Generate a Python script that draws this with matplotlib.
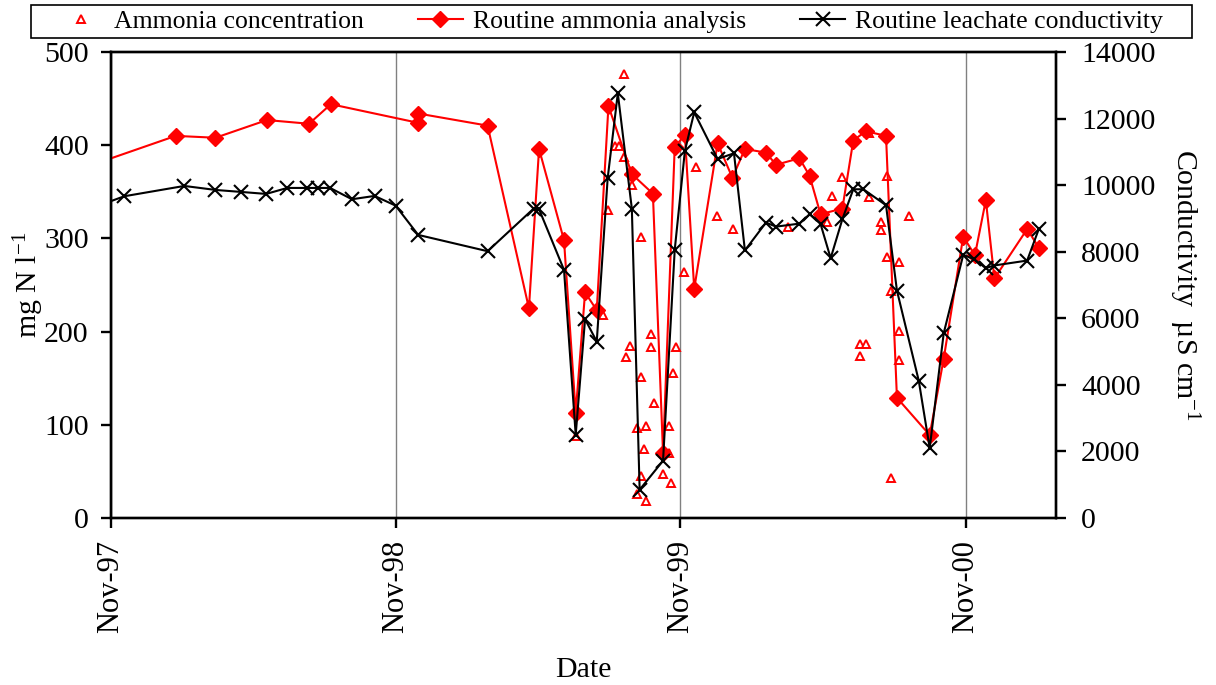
import matplotlib
matplotlib.use("Agg")
import matplotlib.pyplot as plt
import matplotlib.dates as mdates
from matplotlib.patches import Rectangle
import numpy as np
import pandas as pd

plt.rcParams['font.family'] = ['Liberation Serif', 'DejaVu Serif']
plt.rcParams['mathtext.fontset'] = 'custom'
plt.rcParams['mathtext.rm'] = 'Liberation Serif'
plt.rcParams['mathtext.it'] = 'Liberation Serif:italic'

# ---- Routine ammonia analysis (mg N l-1) ----
routine_nh3_dates = [
    "1997-10-22", "1998-01-23", "1998-03-15", "1998-05-20", "1998-07-13", "1998-08-10",
    "1998-11-30", "1998-11-30", "1999-02-27", "1999-04-21", "1999-05-04", "1999-06-05",
    "1999-06-20", "1999-07-02", "1999-07-17", "1999-08-01", "1999-08-31", "1999-09-27",
    "1999-10-10", "1999-10-25", "1999-11-07", "1999-11-19", "1999-12-19", "2000-01-07",
    "2000-01-23", "2000-02-19", "2000-03-03", "2000-04-02", "2000-04-15", "2000-04-29",
    "2000-05-27", "2000-06-10", "2000-06-26", "2000-07-22", "2000-08-05", "2000-09-16",
    "2000-10-04", "2000-10-29", "2000-11-13", "2000-11-27", "2000-12-08", "2001-01-19",
    "2001-02-03",
]
routine_nh3_values = [
    383, 410, 408, 427, 423, 444,
    424, 434, 421, 225, 396, 298,
    113, 242, 223, 442, 369, 348,
    70, 398, 411, 246, 402, 365,
    396, 392, 379, 386, 367, 326,
    332, 405, 415, 410, 129, 89,
    171, 302, 282, 341, 257, 310,
    290,
]

# ---- Routine leachate conductivity (uS cm-1) ----
cond_dates = [
    "1997-10-22", "1997-11-18", "1998-02-03", "1998-03-15", "1998-04-17", "1998-05-19",
    "1998-06-15", "1998-07-11", "1998-07-25", "1998-08-09", "1998-09-06", "1998-10-05",
    "1998-11-01", "1998-11-30", "1999-02-27", "1999-04-27", "1999-05-04", "1999-06-05",
    "1999-06-20", "1999-07-02", "1999-07-17", "1999-07-31", "1999-08-13", "1999-08-31",
    "1999-09-10", "1999-10-10", "1999-10-25", "1999-11-07", "1999-11-19", "1999-12-19",
    "2000-01-09", "2000-01-23", "2000-02-19", "2000-03-03", "2000-04-02", "2000-04-15",
    "2000-04-29", "2000-05-12", "2000-05-27", "2000-06-10", "2000-06-23", "2000-07-22",
    "2000-08-05", "2000-09-02", "2000-09-16", "2000-10-04", "2000-10-29", "2000-11-12",
    "2000-11-27", "2000-12-07", "2001-01-19", "2001-02-03",
]
cond_values = [
    9435, 9666, 9976, 9856, 9796, 9736,
    9916, 9916, 9916, 9916, 9576, 9676,
    9385, 8505, 8015, 9295, 9276, 7454,
    2501, 5974, 5301, 10207, 12759, 9295,
    850, 1720, 8054, 11026, 12188, 10786,
    10957, 8040, 8874, 8754, 8844, 9126,
    8835, 7805, 8976, 9876, 9876, 9396,
    6833, 4122, 2101, 5554, 7904, 7775,
    7505, 7584, 7734, 8685,
]

# ---- Ammonia concentration (mg N l-1) ----
conc_dates = [
    "1999-06-20", "1999-07-25", "1999-08-01", "1999-08-09", "1999-08-15", "1999-08-21",
    "1999-08-21", "1999-08-23", "1999-08-28", "1999-08-29", "1999-08-31", "1999-09-06",
    "1999-09-07", "1999-09-12", "1999-09-12", "1999-09-12", "1999-09-15", "1999-09-18",
    "1999-09-18", "1999-09-25", "1999-09-25", "1999-09-28", "1999-10-10", "1999-10-18",
    "1999-10-18", "1999-10-20", "1999-10-23", "1999-10-27", "1999-11-06", "1999-11-21",
    "1999-12-18", "2000-01-08", "2000-03-18", "2000-05-07", "2000-05-14", "2000-05-27",
    "2000-06-18", "2000-06-19", "2000-06-26", "2000-06-30", "2000-06-30", "2000-07-16",
    "2000-07-16", "2000-07-23", "2000-07-23", "2000-07-28", "2000-07-28", "2000-08-07",
    "2000-08-07", "2000-08-07", "2000-08-20",
]
conc_values = [
    87.5, 218, 331, 399.5, 399.5, 476,
    387, 173, 185, 372, 357, 26,
    96.5, 301, 151, 45, 74, 99,
    18, 197, 183, 123, 47.5, 99,
    70, 37.5, 156, 183, 264, 377,
    324.5, 310, 312, 318, 346, 366,
    174, 187, 187, 413, 344, 318,
    309, 367, 280.5, 244, 43, 274.5,
    201, 170, 324.5,
]

x_start = "1997-11-01"
x_end = "2001-02-25"

rd = pd.to_datetime(routine_nh3_dates)
cd = pd.to_datetime(cond_dates)
ad = pd.to_datetime(conc_dates)

W, H = 1216, 685
fig = plt.figure(figsize=(W / 100, H / 100), dpi=100)
ax = fig.add_axes([111 / W, 1 - 518 / H, (1056 - 111) / W, (518 - 52) / H])
ax2 = ax.twinx()

l1, = ax.plot(ad, conc_values, linestyle='none', marker='^', markersize=5.5,
              markerfacecolor='white', markeredgecolor='#FF0000', markeredgewidth=1.4,
              label='Ammonia concentration', zorder=3)
l2, = ax.plot(rd, routine_nh3_values, color='#FF0000', lw=1.5, marker='D', markersize=8,
              markerfacecolor='#FF0000', markeredgecolor='#FF0000',
              label='Routine ammonia analysis', zorder=4)
l3, = ax2.plot(cd, cond_values, color='black', lw=1.5, marker='x', markersize=10,
               markeredgewidth=1.5, label='Routine leachate conductivity', zorder=4)

ax.set_xlim(pd.Timestamp(x_start), pd.Timestamp(x_end))
ax.set_ylim(0, 500)
ax2.set_ylim(0, 14000)
ax.set_yticks(np.arange(0, 501, 100))
ax2.set_yticks(np.arange(0, 14001, 2000))

ax.xaxis.set_major_locator(mdates.MonthLocator(bymonth=11, bymonthday=1))
ax.xaxis.set_major_formatter(mdates.DateFormatter('%b-%y'))
ax.grid(axis='x', color='#808080', lw=1.0)
ax.set_axisbelow(True)

for a in (ax, ax2):
    for s in a.spines.values():
        s.set_linewidth(1.7)
        s.set_color('black')

ax.tick_params(axis='x', direction='out', length=7, width=1.7, labelsize=22,
               labelrotation=90, pad=9)
ax.tick_params(axis='y', direction='out', length=7, width=1.7, labelsize=21.5, pad=9)
ax2.tick_params(axis='y', direction='out', length=7, width=1.7, labelsize=21.5, pad=11)

ax.set_xlabel('Date', fontsize=21.5)
ax.xaxis.set_label_coords(0.5, -0.298)
ax.set_ylabel(r'mg N l$^{-1}$', fontsize=21.5)
ax.yaxis.set_label_coords(-0.069, 0.5)
ax2.set_ylabel(r'Conductivity  µS cm$^{-1}$', fontsize=21.5, rotation=270, va='bottom')
ax2.yaxis.set_label_coords(1.117, 0.5)

# legend frame (drawn separately) and legend entries
fig.patches.append(Rectangle((31 / W, 1 - 38 / H), (1192 - 31) / W, 33 / H,
                             transform=fig.transFigure, fill=False,
                             edgecolor='black', lw=1.2))
leg = fig.legend(handles=[l1, l2, l3], loc='center',
                 bbox_to_anchor=(611 / W, 1 - 21.5 / H),
                 ncol=3, fontsize=18.5, frameon=False,
                 handlelength=1.75, handletextpad=0.4, columnspacing=2.1,
                 borderpad=0, borderaxespad=0)

fig.savefig('out.png', dpi=100)
